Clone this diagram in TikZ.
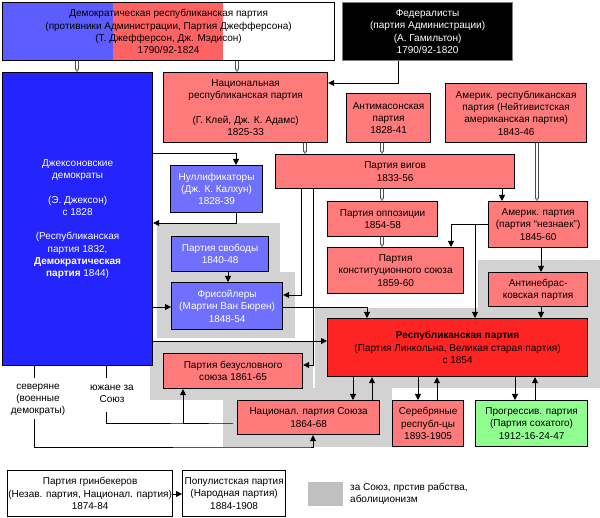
\documentclass[tikz,border=0pt]{standalone}
\usepackage{fontspec}
\setmainfont{Liberation Sans}
\usetikzlibrary{arrows.meta}
\definecolor{prtblue}{RGB}{36,36,255}
\definecolor{prtlav}{RGB}{112,112,255}
\definecolor{prtsalm}{RGB}{255,122,122}
\definecolor{prtred}{RGB}{255,36,36}
\definecolor{prtgreen}{RGB}{144,255,144}
\definecolor{prtgrey}{RGB}{210,210,210}
\definecolor{prtlgnd}{RGB}{192,192,192}
\definecolor{drblue}{RGB}{92,92,255}
\definecolor{drred}{RGB}{255,98,98}

\begin{document}
\begin{tikzpicture}[x=1pt,y=-1pt,font=\fontsize{10}{12.3}\selectfont,
  party/.style={draw=black,line width=1.2pt,anchor=north west,inner sep=0pt,align=center},
  note/.style={inner sep=3pt,align=center},
  arr/.style={line width=0.8pt,-{Triangle[length=6pt,width=6pt]}},
  link/.style={line width=0.8pt},
  hollow/.style={draw=black!70,line width=0.5pt,double=white,double distance=2.4pt,
    -{Triangle[open,length=3pt,width=4pt]}}]
  \useasboundingbox (0,0) rectangle (600,518);

  \fill[prtgrey] (157,223) rectangle (280,272);
  \fill[prtgrey] (157,272) rectangle (295,338);
  \fill[prtgrey] (150,342) rectangle (313,400);
  \fill[prtgrey] (223,388) rectangle (392,447);
  \fill[prtgrey] (315,308) rectangle (600,388);
  \fill[prtgrey] (478,260) rectangle (600,308);

  \fill[drblue] (2,2) rectangle (113,60);
  \fill[drred] (113,2) rectangle (223,60);
  \node[party,minimum width=332pt,minimum height=58pt] (demrep) at (2,2)
    {Демократическая республиканская партия\\(противники Администрации, Партия Джефферсона)\\(Т. Джефферсон, Дж. Мэдисон)\\1790/92-1824};
  \node[party,draw=gray,fill=black,text=white,minimum width=170pt,minimum height=58pt] (fed) at (342,2)
    {Федералисты\\(партия Администрации)\\(А. Гамильтон)\\1790/92-1820};

  \node[party,fill=prtblue,text=white,minimum width=150pt,minimum height=293pt] (jack) at (2,72)
    {Джексоновские\\демократы\\[12.3pt](Э. Джексон)\\с 1828\\[12.3pt](Республиканская\\партия 1832,\\\textbf{Демократическая}\\\textbf{партия} 1844)};
  \node[party,fill=prtsalm,minimum width=164pt,minimum height=70pt] (natrep) at (163,72)
    {Национальная\\республиканская партия\\[12.3pt](Г. Клей, Дж. К. Адамс)\\1825-33};
  \node[party,fill=prtsalm,minimum width=84pt,minimum height=49pt] (antimas) at (346,93)
    {Антимасонская\\партия\\1828-41};
  \node[party,fill=prtsalm,minimum width=141pt,minimum height=59pt] (amrep) at (445,83)
    {Америк. республиканская\\партия (Нейтивистская\\американская партия)\\1843-46};
  \node[party,fill=prtsalm,minimum width=239pt,minimum height=34pt] (whig) at (275,154)
    {Партия вигов\\1833-56};
  \node[party,fill=prtlav,text=white,minimum width=92pt,minimum height=47pt] (nullif) at (170,165)
    {Нуллификаторы\\(Дж. К. Калхун)\\1828-39};
  \node[party,fill=prtsalm,minimum width=110pt,minimum height=35pt] (oppos) at (327,201)
    {Партия оппозиции\\1854-58};
  \node[party,fill=prtsalm,minimum width=99pt,minimum height=46pt] (amer) at (488,201)
    {Америк. партия\\(партия “незнаек”)\\1845-60};
  \node[party,fill=prtlav,text=white,minimum width=97pt,minimum height=35pt] (liberty) at (171,236)
    {Партия свободы\\1840-48};
  \node[party,fill=prtsalm,minimum width=136pt,minimum height=46pt] (constu) at (327,247)
    {Партия\\конституционного союза\\1859-60};
  \node[party,fill=prtsalm,minimum width=99pt,minimum height=34pt] (antineb) at (488,272)
    {Антинебрас-\\ковская партия};
  \node[party,fill=prtlav,text=white,minimum width=111pt,minimum height=47pt] (freesoil) at (171,282)
    {Фрисойлеры\\(Мартин Ван Бюрен)\\1848-54};
  \node[party,fill=prtred,minimum width=260pt,minimum height=58pt] (repub) at (327,318)
    {\textbf{Республиканская партия}\\(Партия Линкольна, Великая старая партия)\\с 1854};
  \node[party,fill=prtsalm,minimum width=139pt,minimum height=35pt] (uncond) at (163,353)
    {Партия безусловного\\союза 1861-65};
  \node[party,fill=prtsalm,minimum width=142pt,minimum height=34pt] (natunion) at (237,400)
    {Национал. партия Союза\\1864-68};
  \node[party,fill=prtsalm,minimum width=71pt,minimum height=46pt] (silver) at (392,400)
    {Серебряные\\республ-цы\\1893-1905};
  \node[party,fill=prtgreen,minimum width=112pt,minimum height=46pt] (progr) at (475,400)
    {Прогрессив. партия\\(Партия сохатого)\\1912-16-24-47};
  \node[party,fill=white,minimum width=165pt,minimum height=46pt] (greenb) at (7,470)
    {Партия гринбекеров\\(Незав. партия, Национал. партия)\\1874-84};
  \node[party,fill=white,minimum width=103pt,minimum height=46pt] (popul) at (182,470)
    {Популистская партия\\(Народная партия)\\1884-1908};

  \node[note] (north) at (38,400) {северяне\\(военные\\демократы)};
  \node[note] (south) at (112,394) {южане за\\Союз};
  \node[fill=prtlgnd,minimum width=35pt,minimum height=23pt,inner sep=0pt] (lgbox) at (325,494) {};
  \node[anchor=west,align=left,inner sep=0pt] (lgtext) at (350,494)
    {за Союз, прстив рабства,\\аболиционизм};

  \draw[hollow] (demrep.south -| 77,0) -- (jack.north -| 77,0);
  \draw[hollow] (demrep.south -| 237,0) -- (natrep.north -| 237,0);
  \draw[arr] (fed.south -| 398,0) |- (natrep.east |- 0,83);
  \draw[hollow] (natrep.south -| 305,0) -- (whig.north -| 305,0);
  \draw[hollow] (antimas.south -| 382,0) -- (whig.north -| 382,0);
  \draw[hollow] (amrep.south -| 537,0) -- (amer.north -| 537,0);
  \draw[arr] (whig.south -| 502,0) -- (amer.north -| 502,0);
  \draw[hollow] (whig.south -| 382,0) -- (oppos.north -| 382,0);
  \draw[arr] (whig.south -| 301,0) |- (freesoil.east |- 0,295);
  \draw[arr] (whig.south -| 313,0) |- (uncond.east |- 0,365);
  \draw[arr] (jack.east |- 0,153) -| (nullif.north -| 236,0);
  \draw[arr] (nullif.south -| 236,0) |- (jack.east |- 0,223);
  \draw[arr] (liberty.south -| 228,0) -- (freesoil.north -| 228,0);
  \draw[arr] (jack.east |- 0,307) -- (freesoil.west |- 0,307);
  \draw[arr] (freesoil.east |- 0,307) -| (repub.north -| 367,0);
  \draw[hollow] (oppos.south -| 382,0) -- (constu.north -| 382,0);
  \draw[arr] (amer.west |- 0,224) -| (constu.north -| 451,0);
  \draw[arr] (amer.west |- 0,224) ++(-13,0) -- (repub.north -| 475,0);
  \draw[arr] (amer.south -| 541,0) -- (antineb.north -| 541,0);
  \draw[arr] (antineb.south -| 541,0) -- (repub.north -| 541,0);
  \draw[arr] (jack.east |- 0,341) -- (repub.west |- 0,341);
  \draw[arr] (repub.south -| 353,0) -- (natunion.north -| 353,0);
  \draw[arr] (natunion.north -| 372,0) -- (repub.south -| 372,0);
  \draw[arr] (repub.south -| 418,0) -- (silver.north -| 418,0);
  \draw[arr] (silver.north -| 437,0) -- (repub.south -| 437,0);
  \draw[arr] (repub.south -| 515,0) -- (progr.north -| 515,0);
  \draw[arr] (progr.north -| 535,0) -- (repub.south -| 535,0);
  \draw[link] (jack.south -| 34,0) -- ++(0,12);
  \draw[link] (jack.south -| 106,0) -- ++(0,12);
  \draw[arr] (north.south -| 34,0) |- (natunion.south |- 0,447) -| (natunion.south -| 313,0);
  \draw[arr] (south.south -| 106,0) ++(0,6) |- (uncond.south |- 0,423) -| (uncond.south -| 183,0);
  \draw[arr] (greenb.east |- 0,494) -- (popul.west |- 0,494);
\end{tikzpicture}
\end{document}
